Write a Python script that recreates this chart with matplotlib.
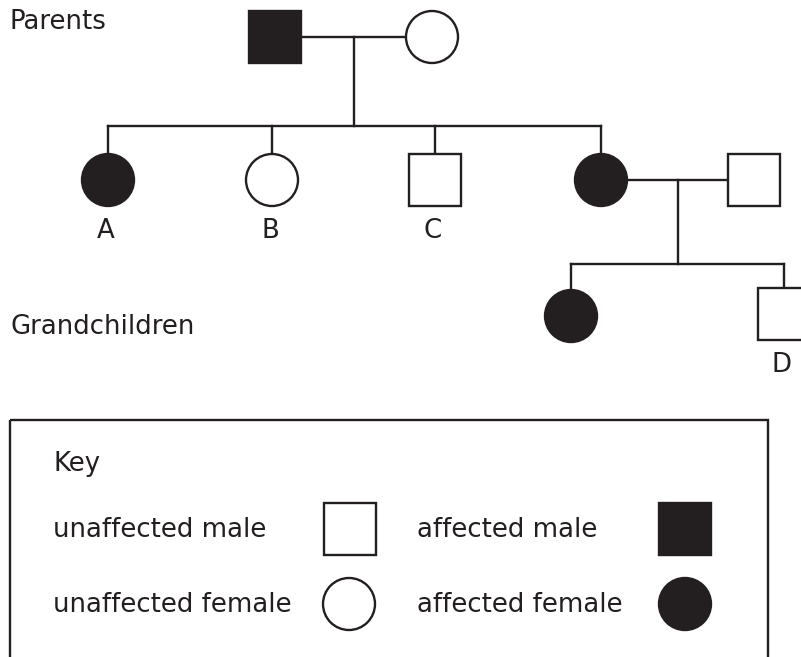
import matplotlib
matplotlib.use("Agg")
import matplotlib.pyplot as plt
from matplotlib.patches import Rectangle, Circle

INK = "#231f20"
LW = 1.7
FONT = "DejaVu Sans"
FS = 18.7

# pedigree members
names = ["father", "mother", "A", "B", "C", "daughter", "son_in_law", "grandchild", "D"]
sex = ["m", "f", "f", "f", "m", "f", "m", "f", "m"]
affected = [True, False, True, False, False, True, False, True, False]
labels = ["", "", "A", "B", "C", "", "", "", "D"]
# layout (pixel coords, y down)
pos_x = [275, 432, 108, 272, 435, 601, 754, 571, 784]
pos_y = [37, 37, 180, 180, 180, 180, 180, 316, 314]

# (parent1, parent2, sibship y, children)
families = [
    ("father", "mother", 126, ["A", "B", "C", "daughter"]),
    ("daughter", "son_in_law", 264, ["grandchild", "D"]),
]

key_items = [
    ("unaffected male", "m", False, 53, 530, 350, 529),
    ("affected male", "m", True, 417, 530, 685, 529),
    ("unaffected female", "f", False, 53, 605, 349, 604),
    ("affected female", "f", True, 417, 605, 685, 604),
]

R = 26  # half size of a symbol


def draw_symbol(ax, x, y, s, filled):
    fc = INK if filled else "white"
    if s == "m":
        p = Rectangle((x - R, y - R), 2 * R, 2 * R, fc=fc, ec=INK, lw=LW, zorder=3)
    else:
        p = Circle((x, y), R, fc=fc, ec=INK, lw=LW, zorder=3)
    ax.add_patch(p)


def put_text(ax, x, y, s, ha="left"):
    ax.text(x, y, s, ha=ha, va="center", fontsize=FS, color=INK, family=FONT)


fig = plt.figure(figsize=(8.01, 6.57), dpi=100)
ax = fig.add_axes([0, 0, 1, 1])
ax.set_xlim(0, 801)
ax.set_ylim(657, 0)
ax.set_aspect("equal")
ax.axis("off")

idx = {n: i for i, n in enumerate(names)}

for p1, p2, sib_y, kids in families:
    x1, x2 = pos_x[idx[p1]], pos_x[idx[p2]]
    y0 = pos_y[idx[p1]]
    ax.plot([x1, x2], [y0, y0], color=INK, lw=LW, zorder=1)
    mid = (x1 + x2) / 2
    ax.plot([mid, mid], [y0, sib_y], color=INK, lw=LW, zorder=1)
    kx = [pos_x[idx[k]] for k in kids]
    ax.plot([min(kx), max(kx)], [sib_y, sib_y], color=INK, lw=LW, zorder=1)
    for k in kids:
        ax.plot([pos_x[idx[k]]] * 2, [sib_y, pos_y[idx[k]]], color=INK, lw=LW, zorder=1)

for i, n in enumerate(names):
    draw_symbol(ax, pos_x[i], pos_y[i], sex[i], affected[i])
    if labels[i]:
        put_text(ax, pos_x[i] - 2, pos_y[i] + 51, labels[i], ha="center")

put_text(ax, 10, 22, "Parents")
put_text(ax, 10, 327, "Grandchildren")

# key box (bottom edge runs off the image)
ax.add_patch(Rectangle((10, 420), 758, 260, fc="none", ec=INK, lw=LW, clip_on=False))
put_text(ax, 53, 464, "Key")
for text, s, filled, tx, ty, sx, sy in key_items:
    put_text(ax, tx, ty, text)
    draw_symbol(ax, sx, sy, s, filled)

fig.savefig("out.png", dpi=100)
